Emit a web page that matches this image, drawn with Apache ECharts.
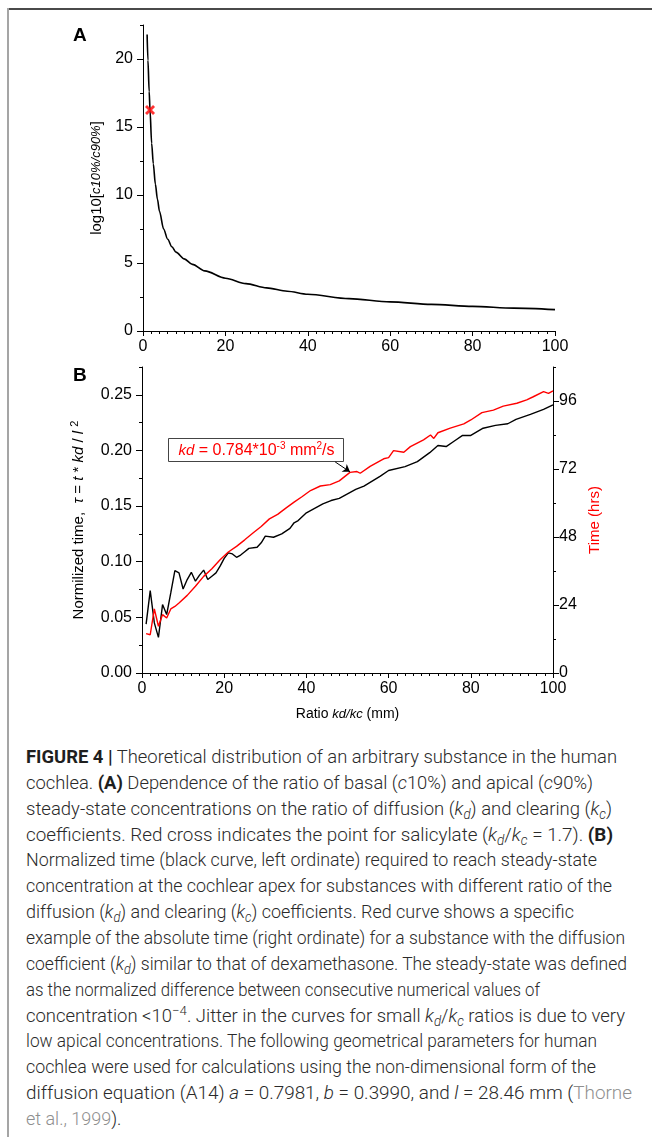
<!DOCTYPE html>
<html>
<head>
<meta charset="utf-8">
<script src="https://cdn.jsdelivr.net/npm/echarts@6.0.0/dist/echarts.min.js"></script>
<style>
  html, body { margin: 0; padding: 0; background: #fff; }
  #page { position: relative; width: 652px; height: 1137px; overflow: hidden; }
  .frame-top { position: absolute; left: 7px; top: 8px; width: 645px; height: 2px; background: #4a4a4a; }
  .frame-left { position: absolute; left: 7px; top: 8px; width: 2px; height: 1129px; background: #a5a5a5; }
  #chart { position: absolute; left: 0; top: 0; width: 652px; height: 735px; }
  #caption {
    position: absolute; left: 26px; top: 744px;
    font-family: 'Roboto', 'Liberation Sans', sans-serif; font-weight: 300;
    font-size: 19px; color: #2a2a2a; white-space: nowrap;
  }
  #caption div { height: 25.86px; line-height: 25.86px; }
  #caption div span.ln { display: inline-block; transform-origin: 0 50%; }
  #caption sub { font-size: 0.72em; vertical-align: -0.3em; line-height: 0; }
  #caption sup { font-size: 0.72em; vertical-align: 0.5em; line-height: 0; }
  #caption b { font-weight: 700; color: #1e1e1e; }
  #caption .ref { color: #8f8f8f; }
</style>
</head>
<body>
<div id="page">
  <div class="frame-top"></div>
  <div class="frame-left"></div>
  <div id="chart"></div>
  <!-- data-w: where each printed line ends, measured from the left margin -->
  <div id="caption">
    <div><span class="ln" data-w="591"><b>FIGURE 4 |</b> Theoretical distribution of an arbitrary substance in the human</span></div>
    <div><span class="ln" data-w="567">cochlea. <b>(A)</b> Dependence of the ratio of basal (<i>c</i>10%) and apical (<i>c</i>90%)</span></div>
    <div><span class="ln" data-w="586">steady-state concentrations on the ratio of diffusion (<i>k<sub>d</sub></i>) and clearing (<i>k<sub>c</sub></i>)</span></div>
    <div><span class="ln" data-w="587">coefficients. Red cross indicates the point for salicylate (<i>k<sub>d</sub></i>/<i>k<sub>c</sub></i> = 1.7). <b>(B)</b></span></div>
    <div><span class="ln" data-w="571">Normalized time (black curve, left ordinate) required to reach steady-state</span></div>
    <div><span class="ln" data-w="586">concentration at the cochlear apex for substances with different ratio of the</span></div>
    <div><span class="ln" data-w="548">diffusion (<i>k<sub>d</sub></i>) and clearing (<i>k<sub>c</sub></i>) coefficients. Red curve shows a specific</span></div>
    <div><span class="ln" data-w="599">example of the absolute time (right ordinate) for a substance with the diffusion</span></div>
    <div><span class="ln" data-w="601">coefficient (<i>k<sub>d</sub></i>) similar to that of dexamethasone. The steady-state was defined</span></div>
    <div><span class="ln" data-w="514">as the normalized difference between consecutive numerical values of</span></div>
    <div><span class="ln" data-w="599">concentration &lt;10<sup>−4</sup>. Jitter in the curves for small <i>k<sub>d</sub></i>/<i>k<sub>c</sub></i> ratios is due to very</span></div>
    <div><span class="ln" data-w="571">low apical concentrations. The following geometrical parameters for human</span></div>
    <div><span class="ln" data-w="570">cochlea were used for calculations using the non-dimensional form of the</span></div>
    <div><span class="ln" data-w="606">diffusion equation (A14) <i>a</i> = 0.7981, <i>b</i> = 0.3990, and <i>l</i> = 28.46 mm (<span class="ref">Thorne</span></span></div>
    <div><span class="ln"><span class="ref">et al., 1999</span>).</span></div>
  </div>
</div>

<script>
// panel A: log10[c10%/c90%] vs kd/kc
var ratioA = [1, 1.2, 1.5, 1.7, 2.1, 2.5, 3, 3.5, 4, 5, 6, 7, 8, 10, 12, 15, 20, 25, 30, 35, 40, 50, 60, 70, 80, 90, 100]
var log10Ratio = [21.8, 19.9, 17.6, 16.25, 13.8, 12.3, 10.8, 9.7, 8.8, 7.5, 6.75, 6.2, 5.8, 5.3, 4.9, 4.42, 3.88, 3.48, 3.17, 2.92, 2.7, 2.38, 2.14, 1.96, 1.81, 1.68, 1.57]
var salicylate = [[1.7, 16.25]]

// panel B: normalized time (left) and absolute time in hours (right)
var blackRatio = [1, 2, 3, 4, 5, 6, 7, 8, 9, 10, 11, 12, 13, 14, 15, 16, 17, 18, 19, 20, 21, 22, 23, 24, 25, 26,
  28, 29, 30, 32, 34, 36, 37, 38, 40, 42, 44, 46, 48, 50, 52, 54, 58, 60, 64, 67, 70, 72, 74, 76, 78, 80, 83, 86, 89, 91, 94.5, 97.7, 100]
var normTime = [0.044, 0.074, 0.045, 0.032, 0.0615, 0.0525, 0.072, 0.092, 0.09, 0.0755, 0.084, 0.0905, 0.0825, 0.088, 0.0925, 0.084, 0.087, 0.09, 0.096, 0.103, 0.108, 0.107, 0.104, 0.106, 0.109, 0.112,
  0.113, 0.117, 0.123, 0.122, 0.125, 0.13, 0.135, 0.137, 0.144, 0.148, 0.152, 0.155, 0.157, 0.161, 0.165, 0.168, 0.177, 0.182, 0.1855, 0.19, 0.198, 0.2045, 0.2035, 0.2085, 0.2135, 0.2135, 0.22, 0.2225, 0.224, 0.228, 0.2325, 0.237, 0.241]
var redRatio = [1, 2, 3, 4, 5, 6, 7, 8, 9, 11, 13, 15, 17, 19, 21, 23, 25, 27, 29, 31, 33, 35, 37, 39, 41,
  43.4, 45.8, 48, 50.6, 52.3, 53.1, 55.5, 58.8, 60, 61.2, 63.7, 65.3, 68.5, 70.2, 71, 72, 75, 78.3, 80, 82.7, 85.5, 87.9, 91.2, 93.6, 95.2, 97.7, 98.9, 100]
var timeHrs = [13.9, 13.5, 22.6, 16.5, 20.6, 19.4, 22.6, 23.5, 24.7, 27.4, 30.6, 34.1, 36.8, 40, 42.7, 44.7, 47, 49.4, 51.7, 54.4, 56, 58.2, 60.3, 62.3, 64.4,
  66, 66.5, 67.8, 70.8, 71.1, 70.5, 72.9, 75.6, 76, 78.5, 77.9, 79.9, 82.3, 84, 82.8, 84.8, 86.4, 87.9, 89.3, 91.9, 92.8, 94.2, 95.2, 96.4, 97.5, 99.3, 98.7, 99.6]
var arrowFrom = [47, 74.5]
var arrowTo = [50.6, 71]

// tick labels
var ratioTicks = [0, 20, 40, 60, 80, 100]
var log10Ticks = [0, 5, 10, 15, 20]
var tauTicks = [0, 0.05, 0.1, 0.15, 0.2, 0.25]
var hrsTicks = [0, 24, 48, 72, 96]

var font = "'Liberation Sans', Arial, sans-serif"

function pairs(xs, ys) {
  return xs.map(function (x, i) { return [x, ys[i]] })
}

var black = {color: '#000', width: 1}
var labelStyle = {fontSize: 16, color: '#000', fontFamily: font}

function xAxisFor(gridIndex, extra) {
  return Object.assign({
    gridIndex: gridIndex,
    type: 'value',
    min: 0,
    max: 100,
    interval: 20,
    axisLine: {show: true, onZero: false, lineStyle: black},
    axisTick: {length: 5, lineStyle: black},
    minorTick: {show: true, splitNumber: 10, length: 3, lineStyle: black},
    axisLabel: Object.assign({margin: 8, customValues: ratioTicks}, labelStyle),
    splitLine: {show: false}
  }, extra || {})
}

// data axis: minor steps, labels only at majors
function yDataAxis(gridIndex, position, max, step, ticks, fmt, extra) {
  return Object.assign({
    gridIndex: gridIndex,
    type: 'value',
    position: position,
    min: 0,
    max: max,
    interval: step,
    axisLine: {show: true, onZero: false, lineStyle: black},
    axisTick: {length: 3, lineStyle: black},
    axisLabel: Object.assign({margin: position === 'left' ? 10 : 6, customValues: ticks, formatter: fmt}, labelStyle),
    splitLine: {show: false}
  }, extra || {})
}

// overlay axis, only for the longer major ticks
function yMajorTicks(gridIndex, position, max, ticks) {
  return {
    gridIndex: gridIndex,
    type: 'value',
    position: position,
    min: 0,
    max: max,
    axisLine: {show: false},
    axisTick: {show: true, customValues: ticks, length: 6, lineStyle: black},
    axisLabel: {show: false},
    splitLine: {show: false}
  }
}

var gridA = {left: 143, top: 25, width: 412, height: 306}
var gridB = {left: 142, top: 367, width: 411, height: 306}

var chart = echarts.init(document.getElementById('chart'))
chart.setOption({
  animation: false,
  backgroundColor: 'transparent',
  grid: [gridA, gridB, gridA, gridB],
  xAxis: [
    xAxisFor(0),
    xAxisFor(1, {
      name: '{r|Ratio }{i|kd/kc}{r| (mm)}',
      nameLocation: 'middle',
      nameGap: 34,
      nameTextStyle: {
        rich: {
          r: {fontSize: 14, fontFamily: font, color: '#000'},
          i: {fontSize: 13, fontFamily: font, fontStyle: 'italic', color: '#000'}
        }
      }
    }),
    {gridIndex: 2, type: 'value', min: 0, max: 100, show: false},
    {gridIndex: 3, type: 'value', min: 0, max: 100, show: false}
  ],
  yAxis: [
    yDataAxis(0, 'left', 22.5, 2.5, log10Ticks, function (v) { return String(v) }, {
      name: '{r|log10[}{i|c10%/c90%}{r|]}',
      nameLocation: 'middle',
      nameGap: 36,
      nameTextStyle: {
        rich: {
          r: {fontSize: 15, fontFamily: font, color: '#000'},
          i: {fontSize: 13, fontFamily: font, fontStyle: 'italic', color: '#000'}
        }
      }
    }),
    yDataAxis(1, 'left', 0.275, 0.025, tauTicks, function (v) { return v.toFixed(2) }, {
      name: '{r|Normilized time,  }{i|τ}{r| = }{i|t}{r| * }{i|kd}{r| / }{i|l }{s|2}',
      nameLocation: 'middle',
      nameGap: 53,
      nameTextStyle: {
        rich: {
          r: {fontSize: 15, fontFamily: font, color: '#000', lineHeight: 20},
          i: {fontSize: 15, fontFamily: font, fontStyle: 'italic', color: '#000', lineHeight: 20},
          s: {fontSize: 11, fontFamily: font, color: '#000', verticalAlign: 'top', lineHeight: 20}
        }
      }
    }),
    yDataAxis(1, 'right', 108, 12, hrsTicks, function (v) { return String(v) }, {
      name: 'Time (hrs)',
      nameLocation: 'middle',
      nameGap: 31,
      nameRotate: 90,
      nameTextStyle: {fontSize: 15, fontFamily: font, color: '#f00'}
    }),
    yMajorTicks(2, 'left', 22.5, log10Ticks),
    yMajorTicks(3, 'left', 0.275, tauTicks),
    yMajorTicks(3, 'right', 108, hrsTicks)
  ],
  graphic: [
    {type: 'text', left: 73, top: 26, style: {text: 'A', font: 'bold 19px ' + font, fill: '#000'}},
    {type: 'text', left: 73, top: 366, style: {text: 'B', font: 'bold 19px ' + font, fill: '#000'}},
    {
      type: 'group',
      left: 168,
      top: 438,
      children: [
        {type: 'rect', shape: {x: 0, y: 0, width: 175, height: 23}, style: {fill: '#fff', stroke: '#444', lineWidth: 1}},
        {
          type: 'text',
          x: 88,
          y: 12,
          style: {
            text: '{i|kd}{r| = 0.784*10}{s|-3}{r| mm}{s|2}{r|/s}',
            align: 'center',
            verticalAlign: 'middle',
            rich: {
              r: {fontSize: 16, fontFamily: font, fill: '#f00', lineHeight: 19},
              i: {fontSize: 15, fontFamily: font, fontStyle: 'italic', fill: '#f00', lineHeight: 19},
              s: {fontSize: 10, fontFamily: font, fill: '#f00', verticalAlign: 'top', lineHeight: 19}
            }
          }
        }
      ]
    }
  ],
  series: [
    {
      name: 'log10 ratio',
      type: 'line',
      xAxisIndex: 0,
      yAxisIndex: 0,
      data: pairs(ratioA, log10Ratio),
      showSymbol: false,
      smooth: 0.3,
      smoothMonotone: 'x',
      lineStyle: {color: '#000', width: 1.6},
      itemStyle: {color: '#000'}
    },
    {
      name: 'salicylate',
      type: 'scatter',
      xAxisIndex: 0,
      yAxisIndex: 0,
      data: salicylate,
      symbol: 'path://M0,2L2,0L5,3L8,0L10,2L7,5L10,8L8,10L5,7L2,10L0,8L3,5Z',
      symbolSize: 10,
      itemStyle: {color: '#f00'},
      z: 5
    },
    {
      name: 'normalized time',
      type: 'line',
      xAxisIndex: 1,
      yAxisIndex: 1,
      data: pairs(blackRatio, normTime),
      showSymbol: false,
      lineStyle: {color: '#000', width: 1.4},
      itemStyle: {color: '#000'}
    },
    {
      name: 'time (hrs)',
      type: 'line',
      xAxisIndex: 1,
      yAxisIndex: 2,
      data: pairs(redRatio, timeHrs),
      showSymbol: false,
      lineStyle: {color: '#f00', width: 1.4},
      itemStyle: {color: '#f00'},
      markLine: {
        silent: true,
        symbol: ['none', 'arrow'],
        symbolSize: 7,
        label: {show: false},
        lineStyle: {color: '#000', width: 1, type: 'solid'},
        data: [[{coord: arrowFrom}, {coord: arrowTo}]]
      }
    }
  ]
})

// fit each caption line to the width it has in the printed figure;
// lines without a measured width get the average squeeze of the others
var lines = document.querySelectorAll('#caption span.ln')
var sum = 0, n = 0
for (var i = 0; i < lines.length; i++) {
  var el = lines[i]
  var target = parseFloat(el.getAttribute('data-w'))
  var w = el.getBoundingClientRect().width
  if (target && w > 0) {
    el.style.transform = 'scaleX(' + (target / w) + ')'
    sum += target / w
    n++
  }
}
for (var j = 0; j < lines.length; j++) {
  if (!lines[j].getAttribute('data-w') && n) lines[j].style.transform = 'scaleX(' + (sum / n) + ')'
}
</script>
</body>
</html>
